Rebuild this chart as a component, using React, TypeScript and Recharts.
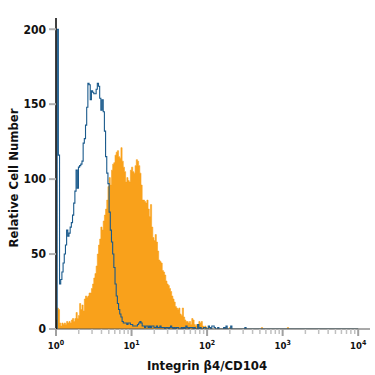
import React from 'react'
import { ComposedChart, Area, Line, XAxis, YAxis, Label } from 'recharts'

const FONT = "'Liberation Sans Narrow', 'Arial Narrow', 'DejaVu Sans Condensed', sans-serif"

const CHANNELS_PER_DECADE = 64
const TOTAL_CHANNELS = 256
const DECADES = [0, 1, 2, 3, 4]
const Y_TICKS = [0, 50, 100, 150, 200]

// isotype control, counts per channel starting at channel 0 (blue outline)
const CONTROL = [
  0, 200, 116, 30, 33, 38, 44, 50, 56, 66, 62, 64, 68, 71, 76, 84, 92, 106, 94, 108,
  109, 110, 112, 124, 127, 136, 148, 164, 163, 153, 159, 158, 157, 157, 160, 164, 162, 154, 146, 153,
  145, 132, 115, 104, 97, 78, 66, 58, 50, 41, 30, 22, 17, 13, 10, 8, 5, 4, 4, 4,
  3, 4, 4, 3, 3, 2, 2, 2, 2, 3, 4, 5, 4, 2, 2, 1, 2, 2, 1, 2,
  1, 2, 2, 1, 1, 2, 1, 1, 2, 1, 1, 1, 0, 1, 1, 0, 1, 2, 1, 0,
  1, 0, 1, 1, 0, 0, 1, 0, 1, 0, 2, 1, 0, 1, 1, 1, 0, 1, 0, 0,
  3, 0, 1, 0, 0, 1, 1, 0, 0, 2, 1, 0, 2, 2, 1, 0, 0, 1, 0, 0,
  0, 0, 1, 0, 2, 0, 0, 0, 2, 0, 0, 0, 0, 0, 0, 0, 0, 0, 0, 0,
  1, 0, 0, 0, 0, 0, 0, 0, 0, 0,
]

// Integrin b4 / CD104 stained cells (orange fill)
const STAINED = [
  6, 14, 13, 4, 2, 4, 3, 4, 3, 5, 4, 5, 4, 6, 7, 5, 7, 11, 7, 9,
  17, 13, 16, 12, 20, 22, 21, 22, 24, 24, 27, 30, 34, 37, 42, 50, 56, 60, 68, 66,
  72, 76, 80, 86, 95, 101, 96, 106, 110, 111, 116, 118, 119, 115, 114, 121, 112, 108, 105, 98,
  101, 99, 98, 106, 108, 105, 104, 109, 113, 112, 109, 104, 96, 86, 86, 85, 84, 86, 80, 75,
  83, 68, 61, 59, 63, 58, 52, 46, 45, 44, 39, 38, 36, 32, 30, 29, 27, 25, 22, 20,
  18, 15, 14, 13, 14, 10, 9, 14, 8, 6, 5, 5, 4, 5, 3, 7, 6, 3, 2, 3,
  2, 5, 4, 5, 2, 1, 2, 1, 0, 0, 1, 0, 0, 0, 0, 0, 0, 0, 0, 0,
  0, 0, 0, 1, 0, 0, 0, 1, 0, 0, 0, 0, 0, 0, 0, 0, 0, 0, 0, 0,
  0, 0, 0, 0, 0, 0, 0, 0, 0, 0, 0, 0, 0, 0, 1, 0, 0, 0, 0, 0,
  0, 0, 0, 0, 0, 0, 0, 0, 0, 0, 0, 0, 0, 0, 0, 0, 1, 0, 0, 0,
]

// one row per channel, plus a closing row so the last step reaches 10^4
const rows = Array.from({ length: TOTAL_CHANNELS + 1 }, (_, ch) => {
  const i = Math.min(ch, TOTAL_CHANNELS - 1)
  return { ch, control: CONTROL[i] ?? 0, stained: STAINED[i] ?? 0 }
})

const MAJOR_TICKS = DECADES.map((d) => d * CHANNELS_PER_DECADE)
const MINOR_TICKS = DECADES.slice(0, -1).flatMap((d) =>
  [2, 3, 4, 5, 6, 7, 8, 9].map((k) => (d + Math.log10(k)) * CHANNELS_PER_DECADE)
)
const X_TICKS = [...MAJOR_TICKS, ...MINOR_TICKS].sort((a, b) => a - b)

const XTick = (props: any) => {
  const { x, y, payload } = props
  const v = payload.value as number
  const major = MAJOR_TICKS.includes(v)
  return (
    <g>
      <line x1={x} x2={x} y1={y} y2={y + (major ? 7 : 5)} stroke={major ? '#a0a0a0' : '#c0c0c0'} strokeWidth={major ? 2 : 1.5} />
      {major && (
        <text x={x} y={y + 20} textAnchor="middle" fontFamily={FONT} fontWeight="bold" fontSize={9.5} fill="#111">
          10
          <tspan dy={-4} fontSize={7}>
            {v / CHANNELS_PER_DECADE}
          </tspan>
        </text>
      )}
    </g>
  )
}

const App = () => {
  return (
    <div style={{ position: 'absolute', left: 0, top: 0 }}>
      <ComposedChart width={375} height={375} data={rows} margin={{ top: 18, right: 5, left: 0, bottom: 16 }}>
        <XAxis
          type="number"
          dataKey="ch"
          domain={[0, 266]}
          ticks={X_TICKS}
          interval={0}
          tick={<XTick />}
          tickLine={false}
          tickSize={0}
          tickMargin={0}
          height={30}
          axisLine={{ stroke: '#555', strokeWidth: 1.2 }}
        >
          <Label
            content={({ viewBox }: any) => (
              <text
                x={viewBox.x + viewBox.width / 2 - 6}
                y={viewBox.y + 40.5}
                textAnchor="middle"
                fontFamily={FONT}
                fontWeight="bold"
                fontSize={13}
                fill="#111"
              >
                Integrin β4/CD104
              </text>
            )}
          />
        </XAxis>
        <YAxis
          type="number"
          domain={[0, 207.5]}
          allowDataOverflow
          ticks={Y_TICKS}
          interval={0}
          width={56}
          tickSize={7}
          tickMargin={3}
          tickLine={{ stroke: '#b0b0b0', strokeWidth: 2 }}
          axisLine={{ stroke: '#000', strokeWidth: 1.5 }}
          tick={{ fill: '#111', fontSize: 12, fontWeight: 'bold', fontFamily: FONT }}
        >
          <Label
            content={() => (
              <text
                transform="translate(18, 178) rotate(-90)"
                textAnchor="middle"
                fontFamily={FONT}
                fontWeight="bold"
                fontSize={13}
                fill="#111"
              >
                Relative Cell Number
              </text>
            )}
          />
        </YAxis>
        <Area
          type="stepAfter"
          dataKey="stained"
          fill="#F9A11B"
          fillOpacity={1}
          stroke="#F9A11B"
          strokeWidth={0.6}
          isAnimationActive={false}
          dot={false}
          activeDot={false}
        />
        <Line
          type="stepAfter"
          dataKey="control"
          stroke="#1A5A8C"
          strokeWidth={1.1}
          isAnimationActive={false}
          dot={false}
          activeDot={false}
        />
      </ComposedChart>
    </div>
  )
}

export default App
